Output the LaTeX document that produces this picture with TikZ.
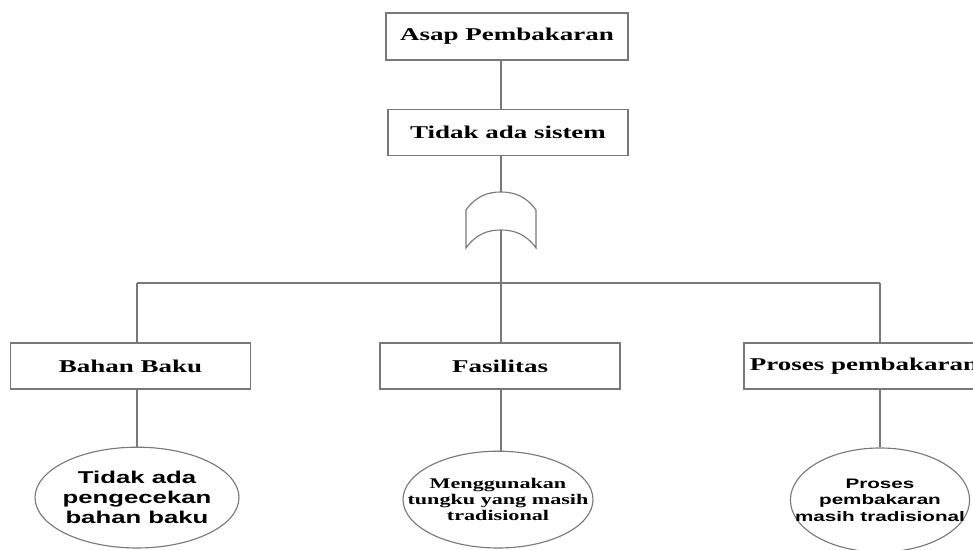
\documentclass[tikz,border=0pt]{standalone}
\usepackage{fontspec}
\usepackage{tikz}
\usetikzlibrary{positioning, shapes, calc}
\newfontfamily\serifwide{Liberation Serif}[FakeStretch=1.5]
\newfontfamily\sanswide{Liberation Sans}[FakeStretch=1.5]
\definecolor{LineGray}{RGB}{120, 120, 120}

\begin{document}
\begin{tikzpicture}[
    box/.style={draw=LineGray, line width=1pt, rectangle, minimum width=6cm, minimum height=1.15cm,
      inner sep=0pt, font={\serifwide\bfseries\fontsize{12.8}{15}\selectfont}},
    leaf/.style={draw=LineGray, line width=0.8pt, ellipse, inner sep=0pt},
    leaftext/.style={inner sep=0pt, align=center},
    link/.style={draw=LineGray, line width=1pt}
  ]
    \useasboundingbox (0,0) rectangle (24.325,13.75);
    \clip (0,0) rectangle (24.325,13.75);

    % Top events
    \node[box, minimum width=6.05cm, minimum height=1.175cm] (asap) at (12.675,12.84) {Asap Pembakaran};
    \node[box] (sistem) at (12.7,10.44) {Tidak ada sistem};

    % OR gate
    \coordinate (gatetop) at (12.52,8.95);
    \coordinate (gatebot) at (12.52,8.0);
    \draw[link, line width=0.8pt, fill=white] (11.65,8.5) .. controls (11.9,8.85) and (12.2,8.95) .. (gatetop)
      .. controls (12.85,8.95) and (13.15,8.85) .. (13.4,8.5) -- (13.4,7.55)
      .. controls (13.15,7.9) and (12.85,8.0) .. (gatebot)
      .. controls (12.2,8.0) and (11.9,7.9) .. (11.65,7.55) -- cycle;

    % Causes
    \node[box] (bahan) at (3.26,4.6) {Bahan Baku};
    \node[box] (fasilitas) at (12.5,4.6) {Fasilitas};
    \node[box] (proses) at (21.6,4.6) {Proses pembakaran};

    % Basic events
    \node[leaf, minimum width=5.1cm, minimum height=2.52cm] (cek) at (3.425,1.31) {};
    \node[leaftext, font={\sanswide\bfseries\fontsize{12.2}{14.2}\selectfont}] (cektext) at (cek)
      {Tidak ada\\pengecekan\\bahan baku};
    \node[leaf, minimum width=4.75cm, minimum height=2.42cm] (tungku) at (12.45,1.26) {};
    \node[leaftext, font={\serifwide\bfseries\fontsize{10.5}{11.3}\selectfont}] (tungkutext) at (tungku)
      {Menggunakan\\tungku yang masih\\tradisional};
    \node[leaf, minimum width=4.48cm, minimum height=2.6cm] (trad) at (22.0,1.25) {};
    \node[leaftext, font={\sanswide\bfseries\fontsize{9.8}{11.7}\selectfont}] (tradtext) at (trad)
      {Proses\\pembakaran\\masih tradisional};

    % Bus
    \coordinate (busL) at (3.425,6.675);
    \coordinate (busM) at (12.52,6.675);
    \coordinate (busR) at (22.0,6.675);

    % Connectors
    \draw[link] (asap.south -| gatetop) -- (sistem.north -| gatetop);
    \draw[link] (sistem.south -| gatetop) -- (gatetop);
    \draw[link] (gatebot) -- (busM);
    \draw[link] (busL) -- (busR);
    \draw[link] (busL) -- (busL |- bahan.north);
    \draw[link] (busM) -- (busM |- fasilitas.north);
    \draw[link] (busR) -- (busR |- proses.north);
    \draw[link] (bahan.south -| cek) -- (cek.north);
    \draw[link] (fasilitas.south -| busM) -- (tungku.north -| busM);
    \draw[link] (proses.south -| trad) -- (trad.north);
  \end{tikzpicture}
\end{document}
